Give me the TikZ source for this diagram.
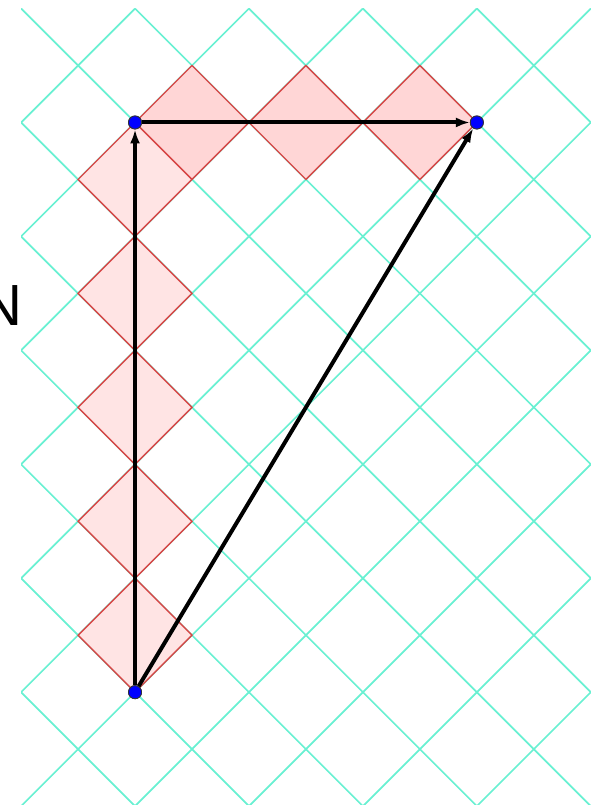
\documentclass[tikz,border=0pt]{standalone}
\usepackage{fontspec}
\setmainfont{Liberation Sans}
\usetikzlibrary{arrows.meta}
\definecolor{gridcyan}{RGB}{105,240,210}
\definecolor{cellred}{RGB}{215,70,70}
\definecolor{celltop}{RGB}{255,214,214}
\definecolor{cellleft}{RGB}{255,228,228}
\tikzset{
  dot/.style={circle,fill=blue,draw=black!80,line width=0.4pt,inner sep=0pt,minimum size=0.23cm},
  vec/.style={-{Latex[length=7pt,width=5pt]},line width=2pt},
  celltopst/.style={fill=celltop,draw=cellred,line width=0.7pt},
  cellleftst/.style={fill=cellleft,draw=cellred,line width=0.7pt}
}

\begin{document}
\begin{tikzpicture}[>=Stealth]
\useasboundingbox (-0.37,0.02) rectangle (10.06,14.15);
% diamond lattice
\begin{scope}
\clip (0,0) rectangle (10,14);
\foreach \c in {0,2,...,24}{\draw[gridcyan,line width=0.85pt] (\c,0)--(\c-14,14);}
\foreach \c in {-14,-12,...,10}{\draw[gridcyan,line width=0.85pt] (\c,0)--(\c+14,14);}
\end{scope}
% left column of cells
\foreach \y in {3,5,7,9,11}{\draw[cellleftst] (2,\y+1)--(3,\y)--(2,\y-1)--(1,\y)--cycle;}
% top row of cells
\foreach \x in {3,5,7}{\draw[celltopst] (\x,13)--(\x+1,12)--(\x,11)--(\x-1,12)--cycle;}
% points
\node[dot] (O) at (2,2) {};
\node[dot] (P) at (2,12) {};
\node[dot] (Q) at (8,12) {};
\draw[vec] (O)--(P);
\draw[vec] (P)--(Q);
\draw[vec] (O)--(Q);
\node[dot] at (O) {}; \node[dot] at (P) {}; \node[dot] at (Q) {};
\node[inner sep=0pt,font=\fontsize{29}{33}\selectfont] (N) at (-0.35,8.78) {N};
\end{tikzpicture}
\end{document}
